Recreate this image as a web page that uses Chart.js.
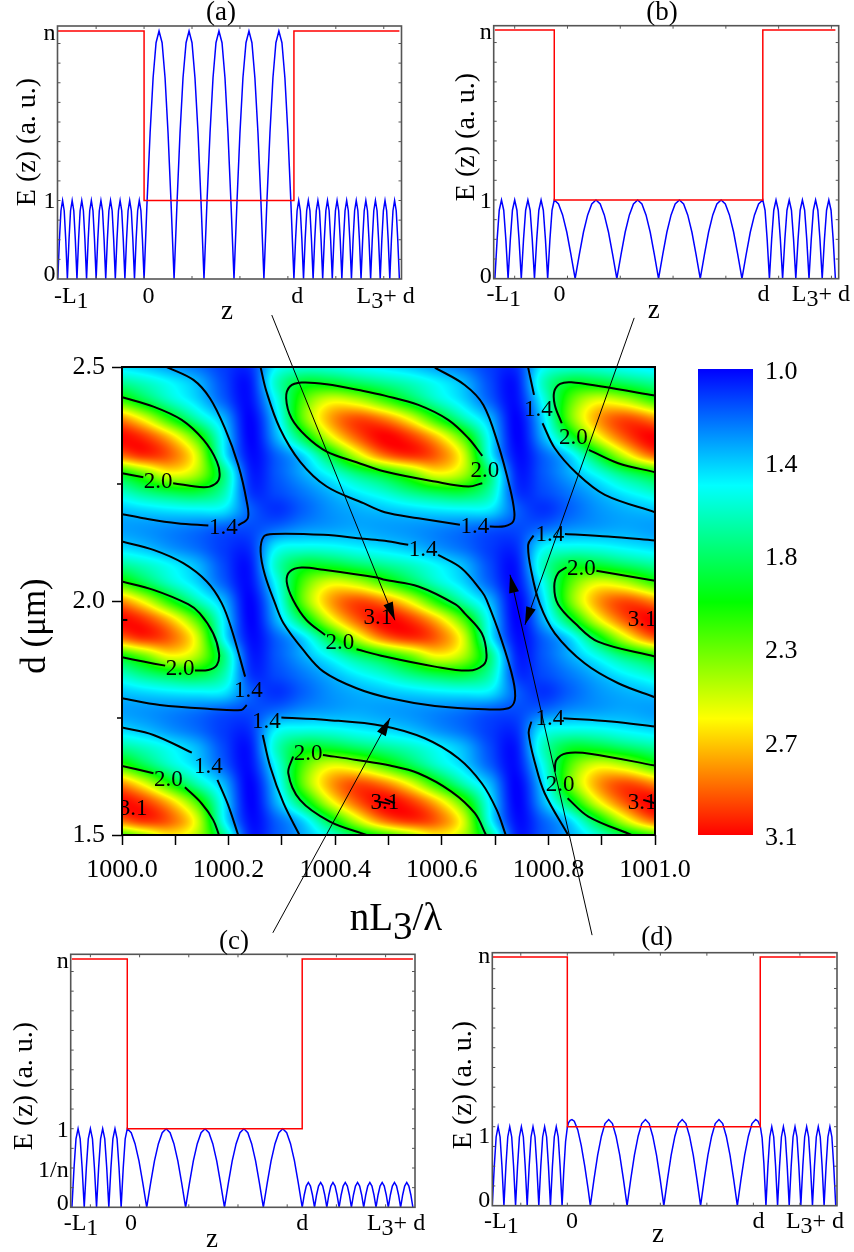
<!DOCTYPE html>
<html><head><meta charset="utf-8">
<style>html,body{margin:0;padding:0;background:#fff;overflow:hidden;width:854px;height:1252px}
canvas{position:absolute;left:0;top:0}</style>
<script src="https://cdn.jsdelivr.net/npm/chart.js@4"></script></head>
<body>
<canvas id="pa" width="854" height="1252"></canvas>
<canvas id="pb" width="854" height="1252"></canvas>
<canvas id="pc" width="854" height="1252"></canvas>
<canvas id="pd" width="854" height="1252"></canvas>
<canvas id="cbar" width="854" height="1252"></canvas>
<canvas id="heat" width="854" height="1252"></canvas>
<script>
/* ---------- colour scale ---------- */
const colorbarValues=[1.0,1.42,1.84,2.26,2.68,3.1];
const colorbarLabels=['1.0','1.4','1.8','2.3','2.7','3.1'];
const colorStops=[[0,[0,0,255]],[.25,[0,255,255]],[.5,[0,255,0]],[.75,[255,255,0]],[1,[255,0,0]]];
/* ---------- map axes ---------- */
const heatXTicks=[1000,1000.1,1000.2,1000.3,1000.4,1000.5,1000.6,1000.7,1000.8,1000.9,1001];
const heatXLabels=['1000.0','','1000.2','','1000.4','','1000.6','','1000.8','','1001.0'];
const heatYTicks=[1.5,2,2.5];
const heatYLabels=['1.5','2.0','2.5'];
const heatYMinor=[1.75,2.25];
/* ---------- map grid: columns x, rows d (bottom to top) ---------- */
const gridX=[999.99,1000.04,1000.09,1000.14,1000.19,1000.24,1000.29,1000.34,1000.39,1000.44,1000.49,1000.54,1000.59,1000.64,1000.69,1000.74,1000.79,1000.84,1000.89,1000.94,1000.99,1001.04];
const gridD=[1.492,1.531,1.57,1.609,1.648,1.687,1.726,1.765,1.804,1.843,1.882,1.921,1.96,1.999,2.038,2.077,2.116,2.155,2.194,2.233,2.272,2.311,2.35,2.389,2.428,2.467,2.506];
const gridV=[
[2.00,2.25,2.55,2.40,1.80,1.08,1.18,1.35,1.55,1.80,2.00,2.25,2.55,2.40,1.80,1.08,1.18,1.35,1.55,1.80,2.00,2.25],
[2.85,3.00,2.90,2.50,1.55,1.03,1.20,1.45,1.93,2.45,2.85,3.00,2.90,2.50,1.55,1.03,1.20,1.45,1.93,2.45,2.85,3.00],
[3.10,3.00,2.70,2.20,1.50,1.00,1.36,1.90,2.50,2.90,3.10,3.00,2.70,2.20,1.50,1.00,1.36,1.90,2.50,2.90,3.10,3.00],
[2.85,2.55,2.10,1.70,1.38,1.00,1.45,2.25,2.75,2.95,2.85,2.55,2.10,1.70,1.38,1.00,1.45,2.25,2.75,2.95,2.85,2.55],
[2.20,1.92,1.65,1.45,1.20,1.03,1.55,2.20,2.52,2.45,2.20,1.92,1.65,1.45,1.20,1.03,1.55,2.20,2.52,2.45,2.20,1.92],
[1.75,1.65,1.52,1.38,1.15,1.05,1.65,1.95,1.95,1.85,1.75,1.65,1.52,1.38,1.15,1.05,1.65,1.95,1.95,1.85,1.75,1.65],
[1.45,1.39,1.30,1.22,1.12,1.10,1.50,1.56,1.55,1.50,1.45,1.39,1.30,1.22,1.12,1.10,1.50,1.56,1.55,1.50,1.45,1.39],
[1.33,1.31,1.28,1.24,1.18,1.15,1.22,1.30,1.33,1.35,1.33,1.31,1.28,1.24,1.18,1.15,1.22,1.30,1.33,1.35,1.33,1.31],
[1.40,1.44,1.48,1.50,1.48,1.20,1.10,1.20,1.30,1.36,1.40,1.44,1.48,1.50,1.48,1.20,1.10,1.20,1.30,1.36,1.40,1.44],
[1.62,1.78,1.90,1.93,1.70,1.12,1.15,1.25,1.37,1.50,1.62,1.78,1.90,1.93,1.70,1.12,1.15,1.25,1.37,1.50,1.62,1.78],
[2.00,2.25,2.55,2.40,1.80,1.08,1.18,1.35,1.55,1.80,2.00,2.25,2.55,2.40,1.80,1.08,1.18,1.35,1.55,1.80,2.00,2.25],
[2.85,3.00,2.90,2.50,1.55,1.03,1.20,1.45,1.93,2.45,2.85,3.00,2.90,2.50,1.55,1.03,1.20,1.45,1.93,2.45,2.85,3.00],
[3.10,3.00,2.70,2.20,1.50,1.00,1.36,1.90,2.50,2.90,3.10,3.00,2.70,2.20,1.50,1.00,1.36,1.90,2.50,2.90,3.10,3.00],
[2.85,2.55,2.10,1.70,1.38,1.00,1.45,2.25,2.75,2.95,2.85,2.55,2.10,1.70,1.38,1.00,1.45,2.25,2.75,2.95,2.85,2.55],
[2.20,1.92,1.65,1.45,1.20,1.03,1.55,2.20,2.52,2.45,2.20,1.92,1.65,1.45,1.20,1.03,1.55,2.20,2.52,2.45,2.20,1.92],
[1.75,1.65,1.52,1.38,1.15,1.05,1.65,1.95,1.95,1.85,1.75,1.65,1.52,1.38,1.15,1.05,1.65,1.95,1.95,1.85,1.75,1.65],
[1.45,1.39,1.30,1.22,1.12,1.10,1.50,1.56,1.55,1.50,1.45,1.39,1.30,1.22,1.12,1.10,1.50,1.56,1.55,1.50,1.45,1.39],
[1.33,1.31,1.28,1.24,1.18,1.15,1.22,1.30,1.33,1.35,1.33,1.31,1.28,1.24,1.18,1.15,1.22,1.30,1.33,1.35,1.33,1.31],
[1.40,1.44,1.48,1.50,1.48,1.20,1.10,1.20,1.30,1.36,1.40,1.44,1.48,1.50,1.48,1.20,1.10,1.20,1.30,1.36,1.40,1.44],
[1.62,1.78,1.90,1.93,1.70,1.12,1.15,1.25,1.37,1.50,1.62,1.78,1.90,1.93,1.70,1.12,1.15,1.25,1.37,1.50,1.62,1.78],
[2.00,2.25,2.55,2.40,1.80,1.08,1.18,1.35,1.55,1.80,2.00,2.25,2.55,2.40,1.80,1.08,1.18,1.35,1.55,1.80,2.00,2.25],
[2.85,3.00,2.90,2.50,1.55,1.03,1.20,1.45,1.93,2.45,2.85,3.00,2.90,2.50,1.55,1.03,1.20,1.45,1.93,2.45,2.85,3.00],
[3.10,3.00,2.70,2.20,1.50,1.00,1.36,1.90,2.50,2.90,3.10,3.00,2.70,2.20,1.50,1.00,1.36,1.90,2.50,2.90,3.10,3.00],
[2.85,2.55,2.10,1.70,1.38,1.00,1.45,2.25,2.75,2.95,2.85,2.55,2.10,1.70,1.38,1.00,1.45,2.25,2.75,2.95,2.85,2.55],
[2.20,1.92,1.65,1.45,1.20,1.03,1.55,2.20,2.52,2.45,2.20,1.92,1.65,1.45,1.20,1.03,1.55,2.20,2.52,2.45,2.20,1.92],
[1.75,1.65,1.52,1.38,1.15,1.05,1.65,1.95,1.95,1.85,1.75,1.65,1.52,1.38,1.15,1.05,1.65,1.95,1.95,1.85,1.75,1.65],
[1.45,1.39,1.30,1.22,1.12,1.10,1.50,1.56,1.55,1.50,1.45,1.39,1.30,1.22,1.12,1.10,1.50,1.56,1.55,1.50,1.45,1.39]];
/* ---------- contour pieces (x, d) ---------- */
const contours=[
[[1000.084,2.5],[1000.134,2.4724],[1000.165,2.4332],[1000.193,2.3692],[1000.218,2.2908],[1000.234,2.2125],[1000.236,2.1769],[1000.218,2.1613]],
[[1000.162,2.1613],[1000.103,2.1662],[1000.04,2.1769],[1000,2.1855]],
[[1000,2.4354],[1000.059,2.4154],[1000.112,2.387],[1000.153,2.3442],[1000.178,2.298],[1000.183,2.2659],[1000.174,2.2495],[1000.153,2.2431],[1000.096,2.2517]],
[[1000.04,2.2645],[1000,2.273]],
[[1000.26,2.4995],[1000.271,2.4475],[1000.296,2.3692],[1000.334,2.298],[1000.384,2.2446],[1000.453,2.209],[1000.493,2.1897],[1000.556,2.1769],[1000.634,2.1627]],
[[1000.69,2.1591],[1000.718,2.1598],[1000.734,2.1698],[1000.736,2.1912],[1000.728,2.241],[1000.706,2.3336],[1000.678,2.419],[1000.643,2.4617],[1000.587,2.4987]],
[[1000.676,2.3101],[1000.65,2.3478],[1000.612,2.387],[1000.556,2.419],[1000.493,2.4389],[1000.453,2.4489],[1000.384,2.4631],[1000.337,2.4667],[1000.315,2.4582],[1000.308,2.4332],[1000.318,2.3905],[1000.346,2.3514],[1000.384,2.3193],[1000.44,2.2965],[1000.493,2.2766],[1000.587,2.2552],[1000.65,2.2446],[1000.676,2.2517]],
[[1000.762,2.4987],[1000.773,2.4404]],
[[1000.789,2.3798],[1000.812,2.3264],[1000.853,2.273],[1000.906,2.2268],[1001,2.1897]],
[[1001,2.4389],[1000.9,2.4582],[1000.843,2.4674],[1000.822,2.4639],[1000.811,2.4475],[1000.812,2.419],[1000.825,2.3798]],
[[1000.876,2.3229],[1000.931,2.2944],[1001,2.2752]],
[[1000,2.1271],[1000.059,2.1093],[1000.115,2.0808],[1000.159,2.0416],[1000.187,1.9954],[1000.206,1.9381],[1000.231,1.8384]],
[[1000.234,1.7779],[1000.224,1.7672],[1000.165,1.7694],[1000.071,1.7779],[1000,1.7922]],
[[1000,2.0416],[1000.059,2.0238],[1000.124,1.9932],[1000.146,1.9737],[1000.171,1.931],[1000.182,1.8883],[1000.178,1.8634],[1000.162,1.8527],[1000.137,1.8513]],
[[1000.081,1.8619],[1000.04,1.8705],[1000,1.8797]],
[[1000.537,2.12],[1000.493,2.1285],[1000.453,2.1328],[1000.378,2.1413],[1000.284,2.1434],[1000.266,2.1378],[1000.26,2.1057],[1000.268,2.0559],[1000.287,1.9954],[1000.303,1.9524],[1000.34,1.8954],[1000.378,1.8491],[1000.44,1.8135],[1000.503,1.7922],[1000.587,1.7758],[1000.681,1.7687],[1000.725,1.7708],[1000.737,1.7886],[1000.734,1.8313],[1000.712,1.9168],[1000.684,2.0022],[1000.675,2.0203],[1000.637,2.0701],[1000.593,2.0986]],
[[1000.381,1.9274],[1000.346,1.9595],[1000.321,2.0022],[1000.309,2.0416],[1000.315,2.063],[1000.337,2.0715],[1000.378,2.0666],[1000.478,2.0502],[1000.493,2.0452],[1000.556,2.031],[1000.625,1.9932],[1000.643,1.9737],[1000.675,1.931],[1000.684,1.8847],[1000.678,1.8634],[1000.65,1.8513],[1000.587,1.8598],[1000.493,1.8812],[1000.44,1.8968]],
[[1000.772,2.1399],[1000.762,2.12],[1000.768,2.063],[1000.784,1.9932],[1000.812,1.931],[1000.868,1.8669],[1000.931,1.8242],[1001,1.7943]],
[[1000.831,2.1434],[1000.912,2.1378],[1001,2.1292]],
[[1000.834,2.0722],[1000.818,2.0594],[1000.811,2.031],[1000.818,1.9932],[1000.85,1.9524],[1000.893,1.9132],[1001,1.8812]],
[[1000.89,2.0644],[1001,2.0431]],
[[1000,1.7295],[1000.059,1.7138],[1000.131,1.6761]],
[[1000.179,1.6177],[1000.199,1.5643],[1000.218,1.5]],
[[1000,1.6476],[1000.059,1.632]],
[[1000.118,1.6021],[1000.149,1.5679],[1000.171,1.5323],[1000.182,1.5]],
[[1000.299,1.7509],[1000.384,1.7459],[1000.49,1.7331],[1000.568,1.7067],[1000.631,1.664],[1000.675,1.6106],[1000.703,1.5536],[1000.72,1.5]],
[[1000.264,1.7138],[1000.278,1.6462],[1000.303,1.5679],[1000.333,1.5]],
[[1000.377,1.6711],[1000.44,1.6604],[1000.503,1.6483],[1000.556,1.632],[1000.618,1.5928],[1000.662,1.5465],[1000.683,1.5]],
[[1000.321,1.6676],[1000.312,1.632],[1000.334,1.575],[1000.39,1.5287],[1000.459,1.5]],
[[1000.768,1.7423],[1000.763,1.7174],[1000.775,1.6533],[1000.793,1.5892],[1000.837,1.5]],
[[1000.828,1.7494],[1000.918,1.7423],[1001,1.7316]],
[[1000.812,1.6355],[1000.815,1.6604],[1000.834,1.6747],[1000.881,1.6733],[1001,1.6483]],
[[1000.836,1.5786],[1000.875,1.5394],[1000.956,1.5]],
[[1000.474,1.5729],[1000.503,1.5665]],
[[1000.493,1.5771],[1000.512,1.5679]],
[[1000.978,1.575],[1001,1.5679]],
[[1000,1.9595],[1000.01,1.9595]]
];
/* ---------- contour labels ---------- */
const labels14=[[1000.19,2.1556],[1000.662,2.1591],[1000.781,2.4083],[1000.237,1.8085],[1000.271,1.7423],[1000.162,1.6462],[1000.565,2.1093],[1000.803,2.1413],[1000.803,1.7473]];
const labels20=[[1000.068,2.2552],[1000.681,2.278],[1000.847,2.3492],[1000.109,1.8541],[1000.409,1.9096],[1000.862,2.0687],[1000.087,1.6177],[1000.349,1.6733],[1000.822,1.607]];
const labels31=[[1000.48,1.9637],[1000.976,1.9595],[1000.021,1.5556],[1000.493,1.5684],[1000.976,1.5684]];
/* ---------- arrows (start, tip) in map coordinates ---------- */
const arrowA=[[1000.281,2.611],[1000.512,1.959]];
const arrowB=[[1000.961,2.605],[1000.756,1.949]];
const arrowC=[[1000.283,1.291],[1000.503,1.75]];
const arrowD=[[1000.882,1.286],[1000.728,2.056]];

/* ---------- field profiles ---------- */
const blueA=[[-9,0],[-8.83,.5],[-8.67,.87],[-8.5,1],[-8.33,.87],[-8.17,.5],[-8,0],[-7.83,.5],[-7.67,.87],[-7.5,1],[-7.33,.87],[-7.17,.5],[-7,0],[-6.83,.5],[-6.67,.87],[-6.5,1],[-6.33,.87],[-6.17,.5],[-6,0],[-5.83,.5],[-5.67,.87],[-5.5,1],[-5.33,.87],[-5.17,.5],[-5,0],[-4.83,.5],[-4.67,.87],[-4.5,1],[-4.33,.87],[-4.17,.5],[-4,0],[-3.83,.5],[-3.67,.87],[-3.5,1],[-3.33,.87],[-3.17,.5],[-3,0],[-2.83,.5],[-2.67,.87],[-2.5,1],[-2.33,.87],[-2.17,.5],[-2,0],[-1.83,.5],[-1.67,.87],[-1.5,1],[-1.33,.87],[-1.17,.5],[-1,0],[-.83,.5],[-.67,.87],[-.5,1],[-.33,.87],[-.17,.5],
[0,0],[.31,.98],[.63,1.86],[.94,2.56],[1.25,3.01],[1.56,3.16],[1.88,3.01],[2.19,2.56],[2.5,1.86],[2.81,.98],
[3.13,0],[3.44,.98],[3.75,1.86],[4.06,2.56],[4.38,3.01],[4.69,3.16],[5,3.01],[5.31,2.56],[5.63,1.86],[5.94,.98],
[6.25,0],[6.56,.98],[6.88,1.86],[7.19,2.56],[7.5,3.01],[7.81,3.16],[8.13,3.01],[8.44,2.56],[8.75,1.86],[9.06,.98],
[9.38,0],[9.69,.98],[10,1.86],[10.31,2.56],[10.63,3.01],[10.94,3.16],[11.25,3.01],[11.56,2.56],[11.88,1.86],[12.19,.98],
[12.5,0],[12.81,.98],[13.13,1.86],[13.44,2.56],[13.75,3.01],[14.06,3.16],[14.38,3.01],[14.69,2.56],[15,1.86],[15.31,.98],
[15.63,0],[15.8,.5],[15.96,.87],[16.13,1],[16.3,.87],[16.46,.5],[16.63,0],[16.8,.5],[16.96,.87],[17.13,1],[17.3,.87],[17.46,.5],[17.63,0],[17.8,.5],[17.96,.87],[18.13,1],[18.3,.87],[18.46,.5],[18.63,0],[18.8,.5],[18.96,.87],[19.13,1],[19.3,.87],[19.46,.5],[19.63,0],[19.8,.5],[19.96,.87],[20.13,1],[20.3,.87],[20.46,.5],[20.63,0],[20.8,.5],[20.96,.87],[21.13,1],[21.3,.87],[21.46,.5],[21.63,0],[21.8,.5],[21.96,.87],[22.13,1],[22.3,.87],[22.46,.5],[22.63,0],[22.8,.5],[22.96,.87],[23.13,1],[23.3,.87],[23.46,.5],[23.63,0],[23.8,.5],[23.96,.87],[24.13,1],[24.3,.87],[24.46,.5],[24.63,0],[24.8,.5],[24.96,.87],[25.13,1],[25.3,.87],[25.46,.5],[25.63,0],[25.8,.5],[25.96,.87],[26.13,1],[26.3,.87],[26.46,.5],[26.63,0]];
const redA=[[-9,3.16],[0,3.16],[0,1],[15.63,1],[15.63,3.16],[26.63,3.16]];
const blueB=[[-4.5,0],[-4.33,.5],[-4.17,.87],[-4,1],[-3.83,.87],[-3.67,.5],[-3.5,0],[-3.33,.5],[-3.17,.87],[-3,1],[-2.83,.87],[-2.67,.5],[-2.5,0],[-2.33,.5],[-2.17,.87],[-2,1],[-1.83,.87],[-1.67,.5],[-1.5,0],[-1.33,.5],[-1.17,.87],[-1,1],[-.83,.87],[-.67,.5],[-.5,0],[-.33,.5],[-.17,.87],
[0,1],[.32,.95],[.63,.81],[.95,.59],[1.26,.31],[1.58,0],[1.9,.31],[2.21,.59],[2.53,.81],[2.84,.95],[3.16,1],[3.48,.95],[3.79,.81],[4.11,.59],[4.42,.31],[4.74,0],[5.06,.31],[5.37,.59],[5.69,.81],[6,.95],[6.32,1],[6.64,.95],[6.95,.81],[7.27,.59],[7.58,.31],[7.9,0],[8.22,.31],[8.53,.59],[8.85,.81],[9.16,.95],[9.48,1],[9.8,.95],[10.11,.81],[10.43,.59],[10.74,.31],[11.06,0],[11.38,.31],[11.69,.59],[12.01,.81],[12.32,.95],[12.64,1],[12.96,.95],[13.27,.81],[13.59,.59],[13.9,.31],[14.22,0],[14.54,.31],[14.85,.59],[15.17,.81],[15.48,.95],[15.8,1],[15.97,.87],[16.13,.5],
[16.3,0],[16.47,.5],[16.63,.87],[16.8,1],[16.97,.87],[17.13,.5],[17.3,0],[17.47,.5],[17.63,.87],[17.8,1],[17.97,.87],[18.13,.5],[18.3,0],[18.47,.5],[18.63,.87],[18.8,1],[18.97,.87],[19.13,.5],[19.3,0],[19.47,.5],[19.63,.87],[19.8,1],[19.97,.87],[20.13,.5],[20.3,0],[20.47,.5],[20.63,.87],[20.8,1],[20.97,.87],[21.13,.5],[21.3,0]];
const redB=[[-4.5,3.16],[0,3.16],[0,1],[15.8,1],[15.8,3.16],[21.3,3.16]];
const blueC=[[-4.5,0],[-4.33,.5],[-4.17,.87],[-4,1],[-3.83,.87],[-3.67,.5],[-3.5,0],[-3.33,.5],[-3.17,.87],[-3,1],[-2.83,.87],[-2.67,.5],[-2.5,0],[-2.33,.5],[-2.17,.87],[-2,1],[-1.83,.87],[-1.67,.5],[-1.5,0],[-1.33,.5],[-1.17,.87],[-1,1],[-.83,.87],[-.67,.5],[-.5,0],[-.33,.5],[-.17,.87],
[0,1],[.32,.95],[.63,.81],[.95,.59],[1.26,.31],[1.58,0],[1.9,.31],[2.21,.59],[2.53,.81],[2.84,.95],[3.16,1],[3.48,.95],[3.79,.81],[4.11,.59],[4.42,.31],[4.74,0],[5.06,.31],[5.37,.59],[5.69,.81],[6,.95],[6.32,1],[6.64,.95],[6.95,.81],[7.27,.59],[7.58,.31],[7.9,0],[8.22,.31],[8.53,.59],[8.85,.81],[9.16,.95],[9.48,1],[9.8,.95],[10.11,.81],[10.43,.59],[10.74,.31],[11.06,0],[11.38,.31],[11.69,.59],[12.01,.81],[12.32,.95],[12.64,1],[12.96,.95],[13.27,.81],[13.59,.59],[13.9,.31],
[14.22,0],[14.39,.16],[14.55,.27],[14.72,.316],[14.89,.27],[15.05,.16],[15.22,0],[15.39,.16],[15.55,.27],[15.72,.316],[15.89,.27],[16.05,.16],[16.22,0],[16.39,.16],[16.55,.27],[16.72,.316],[16.89,.27],[17.05,.16],[17.22,0],[17.39,.16],[17.55,.27],[17.72,.316],[17.89,.27],[18.05,.16],[18.22,0],[18.39,.16],[18.55,.27],[18.72,.316],[18.89,.27],[19.05,.16],[19.22,0],[19.39,.16],[19.55,.27],[19.72,.316],[19.89,.27],[20.05,.16],[20.22,0],[20.39,.16],[20.55,.27],[20.72,.316],[20.89,.27],[21.05,.16],[21.22,0],[21.39,.16],[21.55,.27],[21.72,.316],[21.89,.27],[22.05,.16],[22.22,0],[22.39,.16],[22.55,.27],[22.72,.316],[22.89,.27],[23.05,.16],[23.22,0]];
const redC=[[-4.5,3.16],[0,3.16],[0,1],[14.22,1],[14.22,3.16],[23.22,3.16]];
const blueD=[[-6.45,0],[-6.28,.5],[-6.12,.87],[-5.95,1],[-5.78,.87],[-5.62,.5],[-5.45,0],[-5.28,.5],[-5.12,.87],[-4.95,1],[-4.78,.87],[-4.62,.5],[-4.45,0],[-4.28,.5],[-4.12,.87],[-3.95,1],[-3.78,.87],[-3.62,.5],[-3.45,0],[-3.28,.5],[-3.12,.87],[-2.95,1],[-2.78,.87],[-2.62,.5],[-2.45,0],[-2.28,.5],[-2.12,.87],[-1.95,1],[-1.78,.87],[-1.62,.5],[-1.45,0],[-1.28,.5],[-1.12,.87],[-.95,1],[-.78,.87],[-.62,.5],
[-.45,0],[-.3,.45],[-.15,.81],[0,.99],[.1,1.05],[.25,1.08],[.4,1.09],[.6,1.07],[.9,.96],[1.2,.76],[1.5,.5],[1.8,.2],
[1.98,0],[2.3,.34],[2.61,.64],[2.93,.88],[3.24,1.04],[3.56,1.09],[3.88,1.04],[4.19,.88],[4.51,.64],[4.82,.34],[5.14,0],[5.46,.34],[5.77,.64],[6.09,.88],[6.4,1.04],[6.72,1.09],[7.04,1.04],[7.35,.88],[7.67,.64],[7.98,.34],[8.3,0],[8.62,.34],[8.93,.64],[9.25,.88],[9.56,1.04],[9.88,1.09],[10.2,1.04],[10.51,.88],[10.83,.64],[11.14,.34],[11.46,0],[11.78,.34],[12.09,.64],[12.41,.88],[12.72,1.04],[13.04,1.09],[13.36,1.04],[13.67,.88],[13.99,.64],[14.3,.34],[14.62,0],[14.94,.34],[15.25,.64],[15.57,.88],[15.88,1.04],[16.2,1.09],[16.4,1.07],[16.6,1],[16.75,.86],[16.9,.54],
[17.08,0],[17.25,.5],[17.41,.87],[17.58,1],[17.75,.87],[17.91,.5],[18.08,0],[18.25,.5],[18.41,.87],[18.58,1],[18.75,.87],[18.91,.5],[19.08,0],[19.25,.5],[19.41,.87],[19.58,1],[19.75,.87],[19.91,.5],[20.08,0],[20.25,.5],[20.41,.87],[20.58,1],[20.75,.87],[20.91,.5],[21.08,0],[21.25,.5],[21.41,.87],[21.58,1],[21.75,.87],[21.91,.5],[22.08,0],[22.25,.5],[22.41,.87],[22.58,1],[22.75,.87],[22.91,.5],[23.08,0]];
const redD=[[-6.45,3.15],[0,3.15],[0,1],[16.59,1],[16.59,3.15],[23.07,3.15]];
const minorE=[.25,.5,.75,1,1.25,1.5,1.75,2,2.25,2.5,2.75,3];

/* ---------- layout, separate from the data ---------- */
const SERIF='"Liberation Serif"';
const panels=[
 {id:'pa',box:[57.5,401.5,26,279],xr:[-9.03,26.85],yTop:3.223,blue:blueA,red:redA,
  yPos:[.05,.98,3.13],yLab:['0','1','n'],xTick:[-5,0,5,10,15,20,25],
  xLab:[[-7.6,[['-L',0],['1',5]]],[.45,[['0',0]]],[15.97,[['d',0]]],[25.2,[['L',0],['3',5],['+ d',0]]]],xBase:303,
  title:['(a)',221,13],z:[227,312],yTitle:[28,142]},
 {id:'pb',box:[493.7,838.7,25.7,278.7],xr:[-4.59,21.55],yTop:3.214,blue:blueB,red:redB,
  yPos:[.03,.98,3.13],yLab:['0','1','n'],xTick:[-3,1,5,9,13,17,21],
  xLab:[[-3.83,[['-L',0],['1',5]]],[.4,[['0',0]]],[15.86,[['d',0]]],[20.2,[['L',0],['3',5],['+ d',0]]]],xBase:301,
  title:['(b)',662,13],z:[653.7,311],yTitle:[467,137]},
 {id:'pc',box:[70.7,415,954.3,1207.3],xr:[-4.6,23.39],yTop:3.219,blue:blueC,red:redC,
  yPos:[.05,.47,.98,3.13],yLab:['0','1/n','1','n'],xTick:[-3,1,5,9,13,17,21],
  xLab:[[-3.76,[['-L',0],['1',5]]],[.3,[['0',0]]],[14.23,[['d',0]]],[21.85,[['L',0],['3',5],['+ d',0]]]],xBase:1230,
  title:['(c)',234,941.7],z:[212,1240],yTitle:[25,1086]},
 {id:'pd',box:[492.3,837,952.7,1205.7],xr:[-6.45,23.19],yTop:3.203,blue:blueD,red:redD,
  yPos:[.06,.875,3.15],yLab:['0','1','n'],xTick:[-4,0,4,8,12,16,20],
  xLab:[[-5.67,[['-L',0],['1',5]]],[.4,[['0',0]]],[16.45,[['d',0]]],[21.3,[['L',0],['3',5],['+ d',0]]]],xBase:1228,
  title:['(d)',657,938],z:[658,1235],yTitle:[464,1085]}
];
const W=854,H=1252;
/* each axis box runs from the plot edge to the page edge, so tick labels are not clipped */
function fitTo(size){return s=>{ if(s.isHorizontal()) s.height=size; else s.width=size;
  s.paddingLeft=s.paddingRight=s.paddingTop=s.paddingBottom=0; };}
const common={responsive:false,animation:false,devicePixelRatio:1,
  plugins:{legend:{display:false},tooltip:{enabled:false}},events:[]};
const pts=a=>a.map(p=>({x:p[0],y:p[1]}));
function runs(ctx,parts,cx,base,font){
  ctx.font=font; ctx.textAlign='left'; ctx.textBaseline='alphabetic'; ctx.fillStyle='#000';
  let w=0; parts.forEach(p=>w+=ctx.measureText(p[0]).width);
  let x=cx-w/2; parts.forEach(p=>{ctx.fillText(p[0],x,base+p[1]);x+=ctx.measureText(p[0]).width;});
}
function centred(ctx,t,x,y,font,rot){
  ctx.save();ctx.translate(x,y);if(rot)ctx.rotate(rot);ctx.font=font;ctx.fillStyle='#000';
  ctx.textAlign='center';ctx.textBaseline='middle';ctx.fillText(t,0,0);ctx.restore();
}
/* ---------- the four field panels ---------- */
panels.forEach(p=>{
  const panelPlugin={id:'panelDecor',afterDatasetsDraw(c){
    const ctx=c.ctx,a=c.chartArea,sx=c.scales.x,sy=c.scales.y;
    ctx.save();ctx.strokeStyle='#555';ctx.lineWidth=1;ctx.beginPath();
    minorE.forEach(v=>{const y=sy.getPixelForValue(v);ctx.moveTo(a.left,y);ctx.lineTo(a.left+3,y);ctx.moveTo(a.right,y);ctx.lineTo(a.right-3,y);});
    p.xTick.forEach(v=>{const x=sx.getPixelForValue(v);ctx.moveTo(x,a.top);ctx.lineTo(x,a.top+3);ctx.moveTo(x,a.bottom);ctx.lineTo(x,a.bottom-3);});
    ctx.stroke();ctx.lineWidth=1.6;ctx.strokeRect(a.left,a.top,a.right-a.left,a.bottom-a.top);ctx.restore();
    p.xLab.forEach(l=>runs(ctx,l[1],sx.getPixelForValue(l[0]),p.xBase,'24px '+SERIF));
    centred(ctx,p.title[0],p.title[1],p.title[2],'27px '+SERIF);
    centred(ctx,'z',p.z[0],p.z[1],'27px '+SERIF);
    centred(ctx,'E (z) (a. u.)',p.yTitle[0],p.yTitle[1],'28px '+SERIF,-Math.PI/2);
  }};
  new Chart(document.getElementById(p.id),{type:'scatter',
    data:{datasets:[
      {data:pts(p.red),showLine:true,borderColor:'#ff0000',borderWidth:1.5,pointRadius:0,tension:0},
      {data:pts(p.blue),showLine:true,borderColor:'#0000ff',borderWidth:1.5,pointRadius:0,tension:0}]},
    options:{...common,layout:{padding:{left:0,right:W-p.box[1],top:p.box[2],bottom:H-p.box[3]}},
      scales:{
        x:{type:'linear',min:p.xr[0],max:p.xr[1],afterFit:fitTo(0),grid:{display:false},border:{display:false},ticks:{display:false}},
        y:{type:'linear',min:0,max:p.yTop,afterFit:fitTo(p.box[0]),grid:{display:false,drawTicks:false,tickLength:0},border:{display:false},
           afterBuildTicks:s=>{s.ticks=p.yPos.map(v=>({value:v}));},
           ticks:{autoSkip:false,maxRotation:0,minRotation:0,padding:2,color:'#000',font:{family:SERIF,size:24},
                  callback:(v,i)=>p.yLab[i]}}}},
    plugins:[panelPlugin]});
});
/* ---------- colour bar ---------- */
(function(){
  const cv=document.getElementById('cbar'),g=cv.getContext('2d').createLinearGradient(0,369,0,835);
  colorStops.forEach(s=>g.addColorStop(s[0],'rgb('+s[1].join(',')+')'));
  new Chart(cv,{type:'bar',data:{labels:['E'],datasets:[{data:[[colorbarValues[0],colorbarValues[5]]],backgroundColor:g,barPercentage:1,categoryPercentage:1}]},
    options:{...common,layout:{padding:{left:698,right:0,top:369,bottom:H-835}},
      scales:{x:{afterFit:fitTo(0),grid:{display:false},border:{display:false},ticks:{display:false}},
        y:{position:'right',type:'linear',reverse:true,min:1,max:3.1,afterFit:fitTo(W-753),grid:{display:false,drawTicks:false,tickLength:0},border:{display:false},
           afterBuildTicks:s=>{s.ticks=colorbarValues.map(v=>({value:v}));},
           ticks:{autoSkip:false,maxRotation:0,minRotation:0,padding:12,labelOffset:3,color:'#000',font:{family:SERIF,size:26},
                  callback:(v,i)=>colorbarLabels[i]}}}}});
})();
/* ---------- map ---------- */
function colourOf(v){
  let t=(v-colorbarValues[0])/(colorbarValues[5]-colorbarValues[0]);t=Math.max(0,Math.min(1,t));
  let i=0;while(i<colorStops.length-2&&t>colorStops[i+1][0])i++;
  const a=colorStops[i],b=colorStops[i+1],f=(t-a[0])/(b[0]-a[0]);
  return [0,1,2].map(k=>Math.round(a[1][k]+(b[1][k]-a[1][k])*f));
}
function cr(p0,p1,p2,p3,t){return .5*(2*p1+(p2-p0)*t+(2*p0-5*p1+4*p2-p3)*t*t+(3*p1-p0-3*p2+p3)*t*t*t);}
const heatCells=[];gridD.forEach((d,j)=>gridX.forEach((x,i)=>heatCells.push({x,y:d,v:gridV[j][i]})));
const contourSets=contours.map(c=>({data:pts(c),showLine:true,borderColor:'#000',borderWidth:2,pointRadius:0,tension:.35}));
const arrowSets=[arrowA,arrowB,arrowC,arrowD].map(a=>({data:pts(a),showLine:true,borderColor:'#000',borderWidth:1,pointRadius:0,tension:0,clip:false}));
const heatSet={data:heatCells,pointStyle:'rect',pointRadius:19,borderWidth:0,pointBorderWidth:0,
  pointBackgroundColor:heatCells.map(c=>'rgb('+colourOf(c.v).join(',')+')')};
const allSets=[...arrowSets,...contourSets,heatSet];
const heatIndex=allSets.length-1;
const heatPlugin={id:'heatDecor',
  afterDatasetDraw(c,args){
    if(args.index!==heatIndex)return;
    /* smooth the grid for display, sampled through the chart's scales */
    const a=c.chartArea,L=Math.round(a.left),T=Math.round(a.top),w=Math.round(a.right-a.left),h=Math.round(a.bottom-a.top);
    const off=document.createElement('canvas');off.width=w;off.height=h;const oc=off.getContext('2d'),im=oc.createImageData(w,h);
    const dx=gridX[1]-gridX[0],dd=gridD[1]-gridD[0],nx=gridX.length,nd=gridD.length;
    const cl=(i,n)=>i<0?0:i>=n?n-1:i;
    for(let py=0;py<h;py++){
      const dv=c.scales.y.getValueForPixel(T+py+.5),fy=(dv-gridD[0])/dd,j=Math.floor(fy),ty=fy-j;
      const R=[gridV[cl(j-1,nd)],gridV[cl(j,nd)],gridV[cl(j+1,nd)],gridV[cl(j+2,nd)]];
      for(let px=0;px<w;px++){
        const xv=c.scales.x.getValueForPixel(L+px+.5),fx=(xv-gridX[0])/dx,i=Math.floor(fx),tx=fx-i;
        const i0=cl(i-1,nx),i1=cl(i,nx),i2=cl(i+1,nx),i3=cl(i+2,nx);
        const col=R.map(r=>cr(r[i0],r[i1],r[i2],r[i3],tx));
        const rgb=colourOf(cr(col[0],col[1],col[2],col[3],ty));
        const o=(py*w+px)*4;im.data[o]=rgb[0];im.data[o+1]=rgb[1];im.data[o+2]=rgb[2];im.data[o+3]=255;
      }
    }
    oc.putImageData(im,0,0);c.ctx.drawImage(off,L,T);
  },
  afterDatasetsDraw(c){
    const ctx=c.ctx,a=c.chartArea,sx=c.scales.x,sy=c.scales.y;
    /* contour labels */
    ctx.save();ctx.beginPath();ctx.rect(a.left,a.top,a.right-a.left,a.bottom-a.top);ctx.clip();
    [[labels14,'1.4'],[labels20,'2.0'],[labels31,'3.1']].forEach(g=>g[0].forEach(p=>
      centred(ctx,g[1],sx.getPixelForValue(p[0]),sy.getPixelForValue(p[1]),'23px '+SERIF)));
    ctx.restore();
    /* arrow heads */
    [arrowA,arrowB,arrowC,arrowD].forEach(r=>{
      const x0=sx.getPixelForValue(r[0][0]),y0=sy.getPixelForValue(r[0][1]),x1=sx.getPixelForValue(r[1][0]),y1=sy.getPixelForValue(r[1][1]);
      ctx.save();ctx.translate(x1,y1);ctx.rotate(Math.atan2(y1-y0,x1-x0));ctx.fillStyle='#000';
      ctx.beginPath();ctx.moveTo(0,0);ctx.lineTo(-18,-5);ctx.lineTo(-18,5);ctx.closePath();ctx.fill();ctx.restore();
    });
    /* frame and minor ticks */
    ctx.save();ctx.strokeStyle='#000';ctx.lineWidth=2;ctx.strokeRect(a.left,a.top,a.right-a.left,a.bottom-a.top);
    ctx.lineWidth=1.5;ctx.beginPath();heatYMinor.forEach(v=>{const y=sy.getPixelForValue(v);ctx.moveTo(a.left,y);ctx.lineTo(a.left-5,y);});ctx.stroke();ctx.restore();
    /* axis titles */
    centred(ctx,'d (μm)',36,626,'35px '+SERIF,-Math.PI/2);
    runs(ctx,[['nL',0],['3',9],['/λ',0]],396,930,'39px '+SERIF);
  }};
new Chart(document.getElementById('heat'),{type:'scatter',data:{datasets:allSets},
  options:{...common,layout:{padding:{left:0,right:W-655,top:367,bottom:0}},
    scales:{
      x:{type:'linear',min:1000,max:1001,afterFit:fitTo(H-835),border:{display:false},
         grid:{display:true,drawOnChartArea:false,drawTicks:true,tickLength:10,tickColor:'#000',tickWidth:1.5},
         afterBuildTicks:s=>{s.ticks=heatXTicks.map(v=>({value:v}));},
         ticks:{autoSkip:false,maxRotation:0,minRotation:0,padding:10,color:'#000',font:{family:SERIF,size:26},callback:(v,i)=>heatXLabels[i]}},
      y:{type:'linear',min:1.5,max:2.5,afterFit:fitTo(122),border:{display:false},
         grid:{display:true,drawOnChartArea:false,drawTicks:true,tickLength:10,tickColor:'#000',tickWidth:1.5},
         afterBuildTicks:s=>{s.ticks=heatYTicks.map(v=>({value:v}));},
         ticks:{autoSkip:false,maxRotation:0,minRotation:0,padding:7,color:'#000',font:{family:SERIF,size:26},callback:(v,i)=>heatYLabels[i]}}}},
  plugins:[heatPlugin]});
</script>
</body></html>
